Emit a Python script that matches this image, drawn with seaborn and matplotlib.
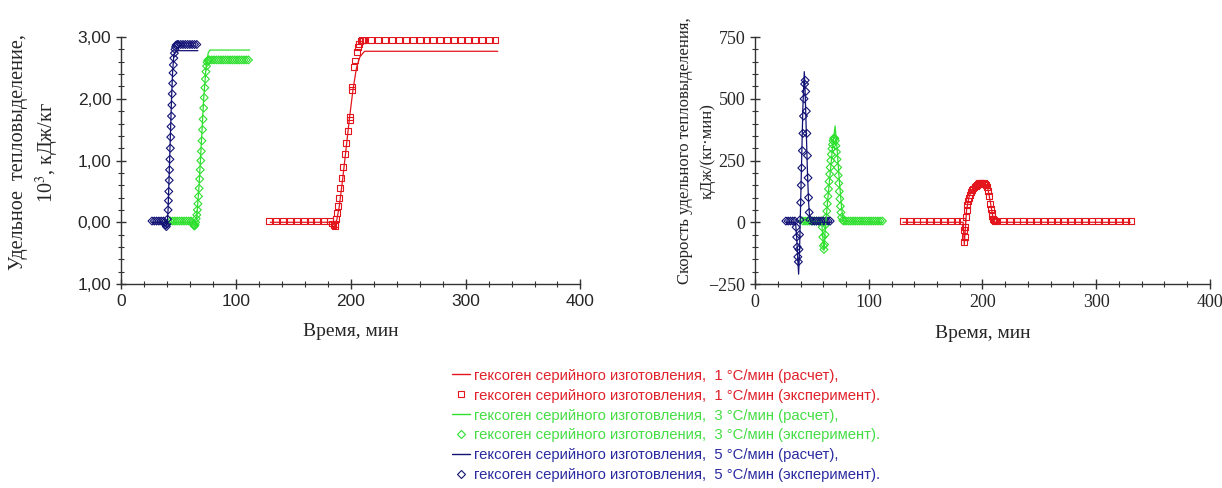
import matplotlib
matplotlib.use("Agg")
import matplotlib.pyplot as plt
import seaborn as sns
from matplotlib.lines import Line2D
from matplotlib.ticker import MultipleLocator, FixedLocator, FixedFormatter

# --- данные: удельное тепловыделение (левый график) ---
red_t_calc = [130, 184, 186, 188, 190, 193, 196, 199, 202, 205, 208, 212, 328]
red_q_calc = [0, 0, -0.06, 0.05, 0.25, 0.7, 1.2, 1.7, 2.15, 2.5, 2.68, 2.77, 2.77]
red_t_exp = [129, 135, 141, 147, 153, 159, 165, 171, 177, 182, 184, 185, 186, 186.5, 187,
             188, 189, 190, 191, 192, 193.5, 195, 196, 197.5, 199, 199.5, 201, 201.5, 203,
             204, 205.5, 206.5, 207.5, 208.5, 209.5, 210.5, 212, 218, 224, 230, 236, 242,
             248, 254, 260, 266, 272, 278, 284, 290, 296, 302, 308, 314, 320, 326]
red_q_exp = [0.02, 0.02, 0.02, 0.02, 0.02, 0.02, 0.02, 0.02, 0.02, 0.02, -0.02, -0.05, -0.06,
             -0.03, 0.05, 0.15, 0.27, 0.40, 0.55, 0.72, 0.90, 1.10, 1.28, 1.48, 1.65, 1.70,
             2.15, 2.20, 2.52, 2.62, 2.76, 2.84, 2.89, 2.93, 2.95, 2.96, 2.96, 2.96, 2.96,
             2.96, 2.96, 2.96, 2.96, 2.96, 2.96, 2.96, 2.96, 2.96, 2.96, 2.96, 2.96, 2.96,
             2.96, 2.96, 2.96, 2.96]

green_t_calc = [42, 62, 64.5, 66, 68, 70, 72, 74, 76, 77.5, 112]
green_q_calc = [0, 0, -0.06, 0.1, 0.6, 1.3, 2.0, 2.5, 2.75, 2.79, 2.79]
green_t_exp = [43, 45, 47, 49, 51, 53, 55, 57, 59, 61, 62, 63, 63.5, 64, 64.5, 65, 65.5, 66,
               66.5, 67, 67.5, 68, 68.5, 69, 69.5, 70, 70.5, 71, 71.5, 72, 72.5, 73, 73.5,
               74, 74.5, 75, 75.5, 76, 77, 79, 81, 83, 85, 87, 89, 91, 93, 95, 97, 99, 101,
               103, 105, 107, 109, 111]
green_q_exp = [0.02, 0.02, 0.02, 0.02, 0.02, 0.02, 0.02, 0.02, 0.02, 0.02, 0.0, -0.03, -0.05,
               -0.06, -0.04, 0.0, 0.06, 0.12, 0.2, 0.3, 0.42, 0.55, 0.7, 0.85, 1.0, 1.15,
               1.32, 1.5, 1.67, 1.85, 2.02, 2.18, 2.32, 2.44, 2.53, 2.59, 2.62, 2.63, 2.63,
               2.63, 2.63, 2.63, 2.63, 2.63, 2.63, 2.63, 2.63, 2.63, 2.63, 2.63, 2.63, 2.63,
               2.63, 2.63, 2.63, 2.63]

blue_t_calc = [27, 39, 40, 41, 42, 43, 44, 45, 46, 47.5, 67]
blue_q_calc = [0, 0, -0.08, 0.2, 0.8, 1.4, 2.0, 2.45, 2.7, 2.78, 2.78]
blue_t_exp = [27, 29, 31, 33, 35, 37, 38, 39, 39.5, 40, 40.5, 41, 41.3, 41.6, 42, 42.3, 42.6,
              43, 43.3, 43.6, 44, 44.3, 44.6, 45, 45.3, 45.6, 46, 46.5, 47, 47.5, 48, 49, 50,
              52, 54, 56, 58, 60, 62, 64, 66]
blue_q_exp = [0.02, 0.02, 0.02, 0.02, 0.02, 0.02, 0.0, -0.04, -0.07, -0.03, 0.05, 0.2, 0.35,
              0.5, 0.68, 0.85, 1.02, 1.2, 1.38, 1.55, 1.72, 1.9, 2.08, 2.25, 2.42, 2.55, 2.66,
              2.74, 2.8, 2.84, 2.87, 2.88, 2.88, 2.88, 2.88, 2.88, 2.88, 2.88, 2.88, 2.88, 2.88]

# --- данные: скорость тепловыделения (правый график) ---
red_t_calc_r = [130, 183, 184, 185, 186, 188, 190, 193, 196, 199, 201, 203, 205, 207, 209, 211, 330]
red_w_calc = [0, 0, -90, -20, 50, 100, 125, 145, 158, 165, 163, 155, 130, 80, 25, 0, 0]
red_t_exp_r = [130, 136, 142, 148, 154, 160, 166, 172, 178, 182, 183.5, 184, 184.5, 185,
               185.5, 186, 186.5, 187, 188, 189, 190, 191, 192, 193, 194, 195, 196, 197, 198,
               199, 200, 201, 202, 203, 204, 205, 206, 207, 207.5, 208, 208.5, 209, 210, 211,
               212, 218, 224, 230, 236, 242, 248, 254, 260, 266, 272, 278, 284, 290, 296,
               302, 308, 314, 320, 326, 331]
red_w_exp = [5, 5, 5, 5, 5, 5, 5, 5, 5, 5, -30, -80, -60, -20, 20, 50, 70, 85, 100, 112, 122,
             130, 137, 143, 148, 152, 155, 158, 160, 161, 160, 158, 155, 150, 142, 128, 105,
             75, 55, 38, 25, 15, 10, 7, 5, 5, 5, 5, 5, 5, 5, 5, 5, 5, 5, 5, 5, 5, 5, 5, 5, 5,
             5, 5, 5]

green_t_calc_r = [42, 58.5, 59.5, 60.5, 61.5, 62.5, 64, 66, 68, 70.3, 72, 74, 76, 77.5, 112]
green_w_calc = [0, 0, -60, -115, -40, 20, 100, 200, 300, 390, 300, 170, 60, 5, 0]
green_t_exp_r = [42, 44, 46, 48, 50, 52, 54, 56, 58, 59, 59.5, 60, 60.5, 61, 61.5, 62, 62.5,
                 63, 63.5, 64, 64.5, 65, 65.5, 66, 66.5, 67, 67.5, 68, 68.5, 69, 69.5, 70,
                 70.5, 71, 71.5, 72, 72.5, 73, 73.5, 74, 74.5, 75, 75.5, 76, 77, 78, 80, 82,
                 84, 86, 88, 90, 92, 94, 96, 98, 100, 102, 104, 106, 108, 110, 112]
green_w_exp = [5, 5, 5, 5, 5, 5, 5, 5, 5, -20, -60, -95, -110, -90, -50, -10, 20, 45, 75, 105,
               135, 165, 195, 222, 250, 275, 298, 315, 330, 338, 342, 340, 330, 310, 285, 255,
               222, 190, 158, 125, 95, 65, 40, 20, 8, 5, 5, 5, 5, 5, 5, 5, 5, 5, 5, 5, 5, 5,
               5, 5, 5, 5, 5]

blue_t_calc_r = [27, 35.5, 36.5, 37.5, 38.2, 39, 40, 41, 42, 43.2, 44, 45, 46, 47, 48, 49, 67]
blue_w_calc = [0, 0, -60, -150, -210, -120, 80, 280, 470, 610, 520, 360, 200, 80, 15, 0, 0]
blue_t_exp_r = [27, 29, 31, 33, 35, 36, 36.5, 37, 37.5, 38, 38.5, 39, 39.5, 40, 40.5, 41,
                41.5, 42, 42.5, 43, 43.5, 44, 44.5, 45, 45.5, 46, 46.5, 47, 47.5, 48, 50, 52,
                54, 56, 58, 60, 62, 64, 66]
blue_w_exp = [5, 5, 5, 5, 5, -20, -60, -100, -140, -160, -110, -50, 10, 80, 150, 220, 290,
              360, 430, 500, 560, 575, 530, 450, 360, 270, 180, 100, 40, 10, 5, 5, 5, 5, 5,
              5, 5, 5, 5]

left_yticks = [-1, 0, 1, 2, 3]
left_ylabels = ["1,00", "0,00", "1,00", "2,00", "3,00"]
right_yticks = [-250, 0, 250, 500, 750]
xticks = [0, 100, 200, 300, 400]

legend_labels = [
    "гексоген серийного изготовления,  1 °C/мин (расчет),",
    "гексоген серийного изготовления,  1 °C/мин (эксперимент).",
    "гексоген серийного изготовления,  3 °C/мин (расчет),",
    "гексоген серийного изготовления,  3 °C/мин (эксперимент).",
    "гексоген серийного изготовления,  5 °C/мин (расчет),",
    "гексоген серийного изготовления,  5 °C/мин (эксперимент).",
]

RED = "#e3161d"
GREEN = "#2fe02f"
BLUE = "#121275"

sns.set_style("ticks")
plt.rcParams["font.family"] = ["Liberation Serif", "DejaVu Serif"]
plt.rcParams["mathtext.fontset"] = "stix"

fig = plt.figure(figsize=(12.22, 4.88), dpi=100)
ax1 = fig.add_axes([0.099, 0.418, 0.376, 0.506])
ax2 = fig.add_axes([0.618, 0.418, 0.372, 0.506])


def draw(ax, series):
    for tc, yc, te, ye, col, mk, ms in series:
        sns.scatterplot(x=te, y=ye, ax=ax, marker=mk, s=ms, color=col,
                        facecolors="none", edgecolor=col, linewidth=0.8, zorder=3)
        sns.lineplot(x=tc, y=yc, ax=ax, color=col, lw=0.9, estimator=None,
                     sort=False, zorder=4)


draw(ax1, [
    (red_t_calc, red_q_calc, red_t_exp, red_q_exp, RED, "s", 18),
    (green_t_calc, green_q_calc, green_t_exp, green_q_exp, GREEN, "D", 16),
    (blue_t_calc, blue_q_calc, blue_t_exp, blue_q_exp, BLUE, "D", 16),
])
draw(ax2, [
    (red_t_calc_r, red_w_calc, red_t_exp_r, red_w_exp, RED, "s", 18),
    (green_t_calc_r, green_w_calc, green_t_exp_r, green_w_exp, GREEN, "D", 16),
    (blue_t_calc_r, blue_w_calc, blue_t_exp_r, blue_w_exp, BLUE, "D", 16),
])

for ax in (ax1, ax2):
    sns.despine(ax=ax)
    ax.set_xlim(0, 400)
    ax.set_xticks(xticks)
    ax.xaxis.set_minor_locator(MultipleLocator(20))
    ax.tick_params(which="major", direction="inout", length=7, width=1, color="#333333",
                   labelsize=13)
    ax.tick_params(which="minor", direction="inout", length=4, width=0.8, color="#333333")
    for sp in ("left", "bottom"):
        ax.spines[sp].set_color("#333333")
        ax.spines[sp].set_linewidth(1)
    ax.set_xlabel("Время, мин", fontsize=14, labelpad=10)

ax1.set_ylim(-1, 3)
ax1.yaxis.set_major_locator(FixedLocator(left_yticks))
ax1.yaxis.set_major_formatter(FixedFormatter(left_ylabels))
ax1.yaxis.set_minor_locator(MultipleLocator(0.2))
for lab in ax1.get_xticklabels() + ax1.get_yticklabels():
    lab.set_family(["Liberation Sans", "DejaVu Sans"])
    lab.set_fontsize(12.5)
ax1.set_ylabel("Удельное  тепловыделение,\n10$^3$, кДж/кг", fontsize=14.5, linespacing=1.3)
ax1.yaxis.set_label_coords(-0.13, 0.534)

ax2.set_ylim(-250, 750)
ax2.set_yticks(right_yticks)
ax2.yaxis.set_minor_locator(MultipleLocator(50))
ax2.set_ylabel("Скорость удельного тепловыделения,\nкДж/(кг·мин)", fontsize=12,
               linespacing=1.6)
ax2.yaxis.set_label_coords(-0.086, 0.54)

handles = []
for col, mk in ((RED, "s"), (GREEN, "D"), (BLUE, "D")):
    handles.append(Line2D([], [], color=col, lw=1))
    handles.append(Line2D([], [], color=col, marker=mk, ls="none", mfc="none",
                          ms=4, mew=0.8))
leg = fig.legend(handles, legend_labels, loc="upper center", bbox_to_anchor=(0.545, 0.272),
                 frameon=False, handlelength=1.2, handletextpad=0.3, labelspacing=0.4,
                 prop={"family": ["Liberation Sans", "DejaVu Sans"], "size": 10.7},
                 labelcolor=["#e0202a", "#e0202a", "#44dd44", "#44dd44", "#2a2aa0", "#2a2aa0"])

fig.savefig("out.png", dpi=100)
